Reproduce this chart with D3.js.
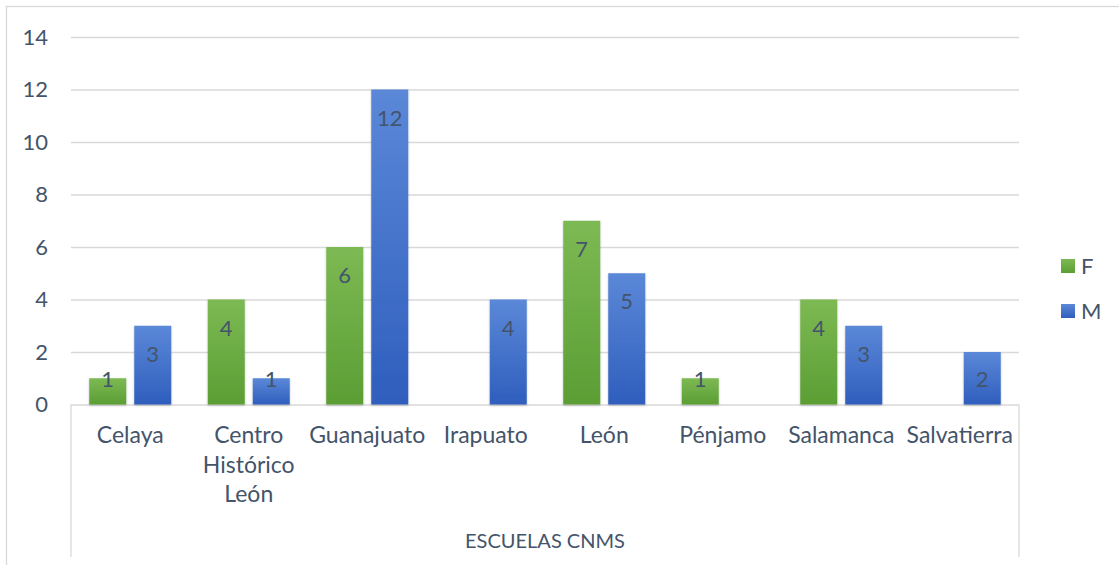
<!DOCTYPE html>
<html><head><meta charset="utf-8">
<script src="https://cdn.jsdelivr.net/npm/d3@7"></script>
<style>body{margin:0;background:#fff;} svg{display:block;font-family:Lato,"Open Sans",sans-serif;}</style>
</head><body><svg id="c" width="1119" height="565"></svg>
<script>
const categories = ["Celaya","Centro Histórico León","Guanajuato","Irapuato","León","Pénjamo","Salamanca","Salvatierra"];
const seriesNames = ["F","M"];
const valuesF = [1,4,6,null,7,1,4,null];
const valuesM = [3,1,12,4,5,null,3,2];
const yTicks = [0,2,4,6,8,10,12,14];
const axisTitle = "ESCUELAS CNMS";

(function(){
const svg = d3.select("#c");
const pL=71,pR=1019,pT=37,pB=404.5;
const textColor="#44546a", gridColor="#d9d9d9";

const defs=svg.append("defs");
function grad(id,c1,c2){const g=defs.append("linearGradient").attr("id",id).attr("x1",0).attr("y1",0).attr("x2",0).attr("y2",1);
g.append("stop").attr("offset","0%").attr("stop-color",c1);g.append("stop").attr("offset","100%").attr("stop-color",c2);}
grad("gF","#7db953","#5b9e34");
grad("gM","#5b88d8","#2f5ebd");
const f=defs.append("filter").attr("id","sh").attr("x","-20%").attr("y","-20%").attr("width","140%").attr("height","140%");
f.append("feDropShadow").attr("dx",0).attr("dy",1).attr("stdDeviation",1.3).attr("flood-color","#000").attr("flood-opacity",0.25);

svg.append("rect").attr("x",6.5).attr("y",6.5).attr("width",1300).attr("height",1000).attr("fill","none").attr("stroke",gridColor).attr("stroke-width",1.3);

const x=d3.scaleBand().domain(categories).range([pL,pR]).paddingInner(0).paddingOuter(0);
const y=d3.scaleLinear().domain([0,14]).range([pB,pT]);
const bw=37, gap=8;
const xs=d3.scaleBand().domain(seriesNames).range([0,bw*2+gap]).paddingInner(gap/(bw+gap));

const yAxis=d3.axisLeft(y).tickValues(yTicks).tickSize(-(pR-pL)).tickPadding(23).tickFormat(d3.format("d"));
const ga=svg.append("g").attr("transform",`translate(${pL},0)`).call(yAxis);
ga.select(".domain").remove();
ga.selectAll(".tick line").attr("stroke",gridColor).attr("stroke-width",1.3);
ga.selectAll(".tick text").attr("fill",textColor).style("font-size","22px").attr("font-family","Lato");

svg.append("line").attr("x1",pL).attr("x2",pL).attr("y1",pB).attr("y2",557).attr("stroke",gridColor).attr("stroke-width",1.3);
svg.append("line").attr("x1",pR).attr("x2",pR).attr("y1",pB).attr("y2",557).attr("stroke",gridColor).attr("stroke-width",1.3);

const data=[];
categories.forEach((c,i)=>{
  [[seriesNames[0],valuesF[i]],[seriesNames[1],valuesM[i]]].forEach(([s,v])=>{ if(v!=null) data.push({c,s,v}); });
});
const groupW=bw*2+gap;
svg.append("g").selectAll("rect").data(data).join("rect")
 .attr("x",d=>x(d.c)+(x.bandwidth()-groupW)/2+xs(d.s))
 .attr("y",d=>y(d.v)).attr("width",xs.bandwidth()).attr("height",d=>y(0)-y(d.v))
 .attr("fill",d=>d.s==="F"?"url(#gF)":"url(#gM)").attr("filter","url(#sh)");
svg.append("g").selectAll("text").data(data).join("text")
 .attr("x",d=>x(d.c)+(x.bandwidth()-groupW)/2+xs(d.s)+xs.bandwidth()/2)
 .attr("y",d=>Math.min(y(d.v)+36,y(0)-18))
 .attr("text-anchor","middle").attr("fill",textColor).style("font-size","22px")
 .text(d=>d.v);

const cl=svg.append("g");
categories.forEach(c=>{
  const t=cl.append("text").attr("x",x(c)+x.bandwidth()/2).attr("y",443).attr("text-anchor","middle").attr("fill",textColor).style("font-size","23px");
  const words=c.split(" ");
  let line=[],lines=[];
  const probe=t.append("tspan");
  words.forEach(w=>{ const test=line.concat([w]).join(" "); probe.text(test);
    if(probe.node().getComputedTextLength()>x.bandwidth()-6 && line.length){lines.push(line.join(" "));line=[w];} else line.push(w);});
  lines.push(line.join(" "));
  probe.remove();
  lines.forEach((l,i)=>t.append("tspan").attr("x",x(c)+x.bandwidth()/2).attr("dy",i?29.5:0).text(l));
});

svg.append("text").attr("x",(pL+pR)/2).attr("y",548).attr("text-anchor","middle").attr("fill",textColor).style("font-size","20px").text(axisTitle);

const lg=svg.append("g");
seriesNames.forEach((s,i)=>{
  const yy=259+i*45;
  lg.append("rect").attr("x",1061).attr("y",yy).attr("width",14).attr("height",14).attr("fill",s==="F"?"url(#gF)":"url(#gM)");
  lg.append("text").attr("x",1081).attr("y",yy+15).attr("fill",textColor).style("font-size","22px").text(s);
});
})();
</script></body></html>
